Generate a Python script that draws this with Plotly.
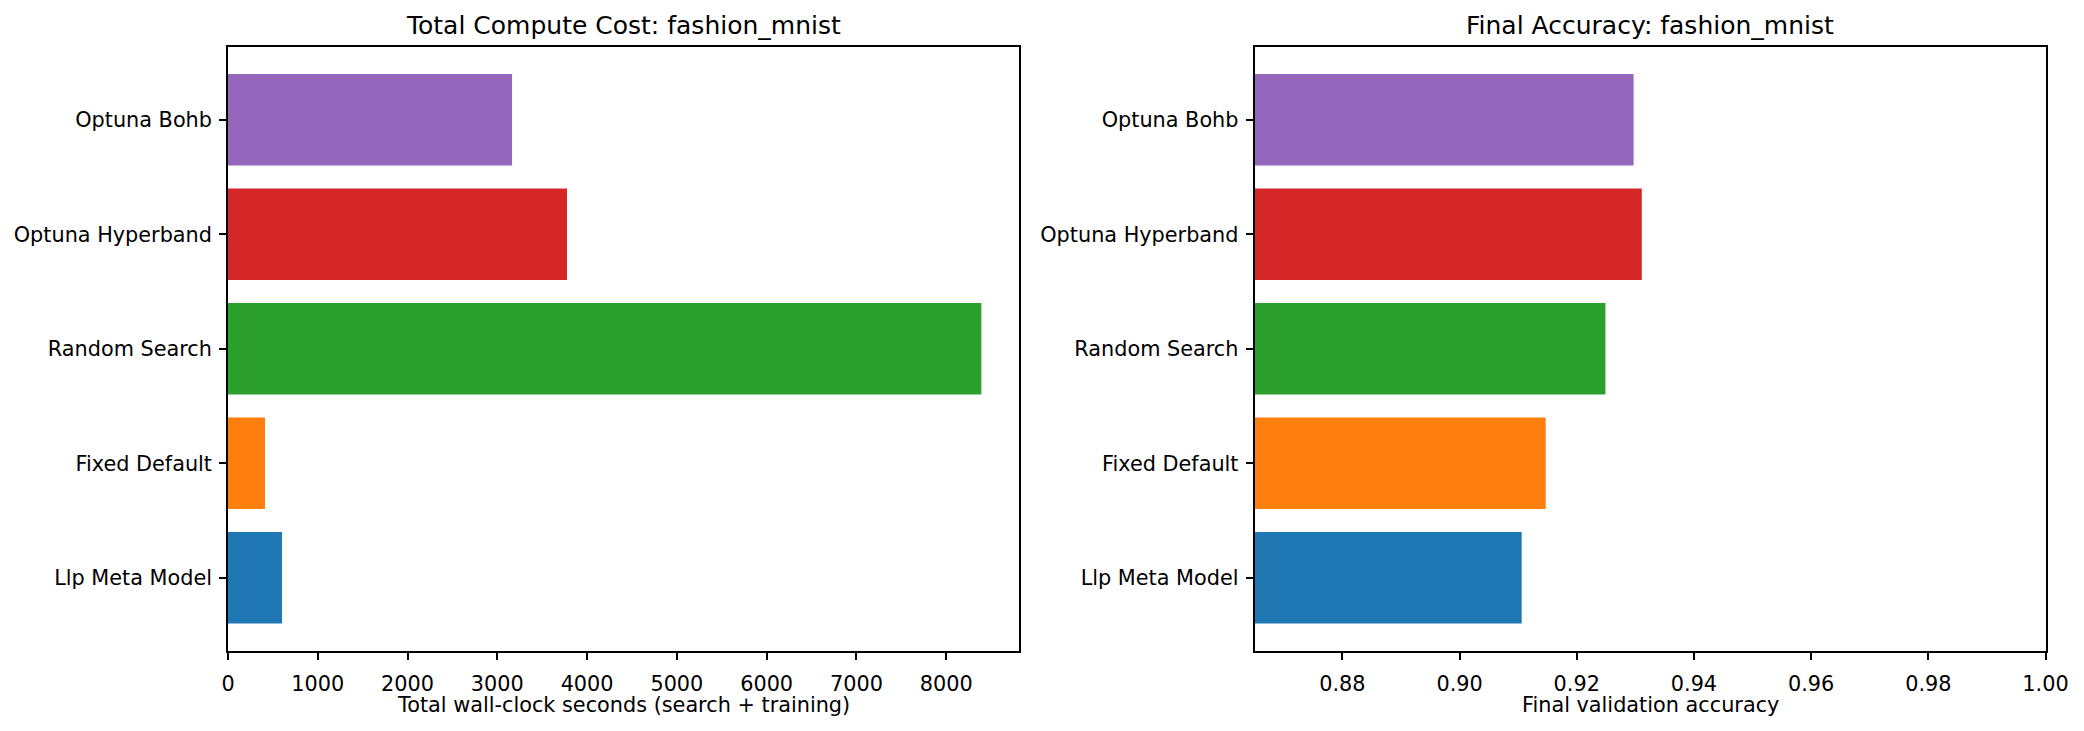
import plotly.graph_objects as go

methods = ["Llp Meta Model", "Fixed Default", "Random Search", "Optuna Hyperband", "Optuna Bohb"]
colors = ["#1f77b4", "#ff7f0e", "#2ca02c", "#d62728", "#9467bd"]
compute_seconds = [602, 412, 8392, 3776, 3164]
final_accuracy = [0.9106, 0.9147, 0.9249, 0.9311, 0.9297]
cost_ticks = [0, 1000, 2000, 3000, 4000, 5000, 6000, 7000, 8000]
acc_ticks = [0.88, 0.90, 0.92, 0.94, 0.96, 0.98, 1.00]

W, H = 2084, 731
FONT = "DejaVu Sans"
TICK = 20.8
TITLE = 25

fig = go.Figure()
fig.add_trace(go.Bar(y=methods, x=compute_seconds, orientation="h", width=0.8,
                     marker=dict(color=colors, line=dict(width=0)),
                     xaxis="x", yaxis="y", showlegend=False))
fig.add_trace(go.Bar(y=methods, x=final_accuracy, orientation="h", width=0.8,
                     marker=dict(color=colors, line=dict(width=0)),
                     base=0, xaxis="x2", yaxis="y2", showlegend=False))

x1 = (228 / W, 1019 / W)
x2 = (1254.5 / W, 2045.5 / W)
yd = (1 - 651 / H, 1 - 46.5 / H)

common = dict(showline=True, linecolor="black", linewidth=1.67, mirror=True,
              ticks="outside", ticklen=7, tickwidth=1.67, tickcolor="black",
              showgrid=False, zeroline=False, automargin=False,
              tickfont=dict(family=FONT, size=TICK, color="black"))

fig.update_layout(
    width=W, height=H,
    margin=dict(l=0, r=0, t=0, b=0),
    paper_bgcolor="white", plot_bgcolor="white",
    font=dict(family=FONT, color="black"),
    xaxis=dict(domain=x1, anchor="y", range=[0, 8811], tickvals=cost_ticks,
               ticklabelstandoff=6, **common),
    yaxis=dict(domain=yd, anchor="x", type="category", categoryorder="array",
               categoryarray=methods, range=[-0.64, 4.64], ticklabelstandoff=3, **common),
    xaxis2=dict(domain=x2, anchor="y2", range=[0.865, 1.0], tickvals=acc_ticks,
                tickformat=".2f", ticklabelstandoff=6, **common),
    yaxis2=dict(domain=yd, anchor="x2", type="category", categoryorder="array",
                categoryarray=methods, range=[-0.64, 4.64], ticklabelstandoff=3, **common),
    annotations=[
        dict(text="Total Compute Cost: fashion_mnist", x=(x1[0] + x1[1]) / 2, y=1 - 25 / H,
             xref="paper", yref="paper", showarrow=False, xanchor="center", yanchor="middle",
             font=dict(family=FONT, size=TITLE, color="black")),
        dict(text="Final Accuracy: fashion_mnist", x=(x2[0] + x2[1]) / 2, y=1 - 25 / H,
             xref="paper", yref="paper", showarrow=False, xanchor="center", yanchor="middle",
             font=dict(family=FONT, size=TITLE, color="black")),
        dict(text="Total wall-clock seconds (search + training)", x=(x1[0] + x1[1]) / 2,
             y=1 - 705 / H, xref="paper", yref="paper", showarrow=False,
             xanchor="center", yanchor="middle",
             font=dict(family=FONT, size=TICK, color="black")),
        dict(text="Final validation accuracy", x=(x2[0] + x2[1]) / 2,
             y=1 - 705 / H, xref="paper", yref="paper", showarrow=False,
             xanchor="center", yanchor="middle",
             font=dict(family=FONT, size=TICK, color="black")),
    ],
)

fig.write_html("out.html")
